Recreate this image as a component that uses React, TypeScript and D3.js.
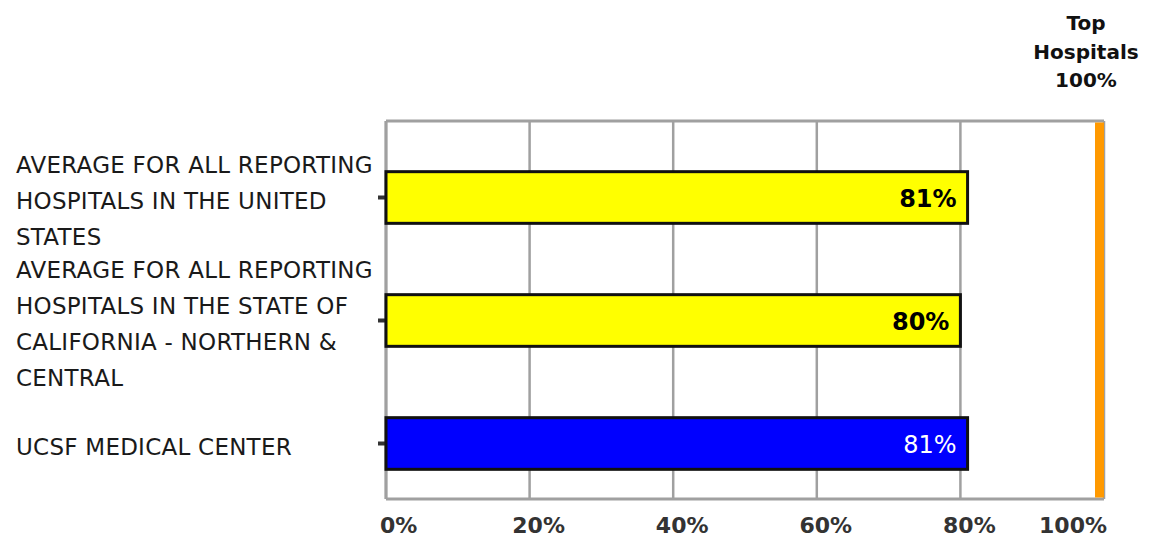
import * as d3 from "d3";

// chart data
const labelLines: string[][] = [
  ["AVERAGE FOR ALL REPORTING", "HOSPITALS IN THE UNITED", "STATES"],
  ["AVERAGE FOR ALL REPORTING", "HOSPITALS IN THE STATE OF", "CALIFORNIA - NORTHERN &", "CENTRAL"],
  ["UCSF MEDICAL CENTER"],
];
const values = [81, 80, 81];
const tickValues = [0, 20, 40, 60, 80, 100];
const benchmarkLabel = ["Top", "Hospitals", "100%"];
const benchmark = 100;

const W = 1153;
const H = 538;
const plot = { left: 386, right: 1104, top: 121, bottom: 499 };
const fills = ["#ffff00", "#ffff00", "#0000ff"];
const valueColors = ["#000", "#000", "#fff"];

export default function App() {
  const x = d3.scaleLinear().domain([0, 100]).range([plot.left, plot.right]);
  const y = d3
    .scaleBand<number>()
    .domain(values.map((_, i) => i))
    .range([136, 505])
    .paddingInner(0.58)
    .paddingOuter(0.29);

  const lineH = 36;
  const gridColor = "#a0a0a0";

  return (
    <svg
      width={W}
      height={H}
      style={{ position: "absolute", left: 0, top: 0, background: "#fff" }}
      fontFamily="DejaVu Sans, Verdana, sans-serif"
    >
      {/* grid lines */}
      {tickValues.map((t) => (
        <line
          key={t}
          x1={x(t)}
          x2={x(t)}
          y1={plot.top}
          y2={plot.bottom}
          stroke={gridColor}
          strokeWidth={2.5}
        />
      ))}
      {/* frame */}
      <line x1={plot.left} x2={plot.right} y1={plot.top} y2={plot.top} stroke={gridColor} strokeWidth={3} />
      <line x1={plot.left} x2={plot.right} y1={plot.bottom} y2={plot.bottom} stroke={gridColor} strokeWidth={3} />
      <line x1={plot.left} x2={plot.left} y1={plot.top} y2={plot.bottom} stroke={gridColor} strokeWidth={3} />

      {/* benchmark line */}
      <rect
        x={x(benchmark) - 9}
        y={plot.top + 1.5}
        width={9}
        height={plot.bottom - plot.top - 3}
        fill="#ff9900"
      />
      <g fontWeight="bold" fontSize={20} fill="#111" textAnchor="middle">
        {benchmarkLabel.map((s, i) => (
          <text key={i} x={1086} y={30 + i * 28.5}>
            {s}
          </text>
        ))}
      </g>

      {/* bars */}
      {values.map((v, i) => {
        const y0 = y(i) ?? 0;
        const bw = y.bandwidth();
        const cy = y0 + bw / 2;
        return (
          <g key={i}>
            <rect x={plot.left - 8} y={cy - 2} width={8} height={4} fill="#333" />
            <rect
              x={x(0)}
              y={y0}
              width={x(v) - x(0)}
              height={bw}
              fill={fills[i]}
              stroke="#111"
              strokeWidth={3}
            />
            <text
              x={x(v) - 11}
              y={cy + 9}
              textAnchor="end"
              fontSize={24}
              fontWeight={i === 2 ? "normal" : "bold"}
              fill={valueColors[i]}
            >
              {v}%
            </text>
            {labelLines[i].map((line, j) => (
              <text
                key={j}
                x={16}
                y={cy + (j - (labelLines[i].length - 1) / 2) * lineH + 11}
                fontSize={23}
                letterSpacing={0.25}
                fill="#1a1a1a"
              >
                {line}
              </text>
            ))}
          </g>
        );
      })}

      {/* x axis labels */}
      <g fontWeight="bold" fontSize={22} fill="#333">
        {tickValues.map((t, i) => {
          const first = i === 0;
          const last = i === tickValues.length - 1;
          return (
            <text
              key={t}
              x={first ? x(t) - 6 : last ? x(t) + 3 : x(t) + 9}
              y={533}
              textAnchor={first ? "start" : last ? "end" : "middle"}
            >
              {t}%
            </text>
          );
        })}
      </g>
    </svg>
  );
}
